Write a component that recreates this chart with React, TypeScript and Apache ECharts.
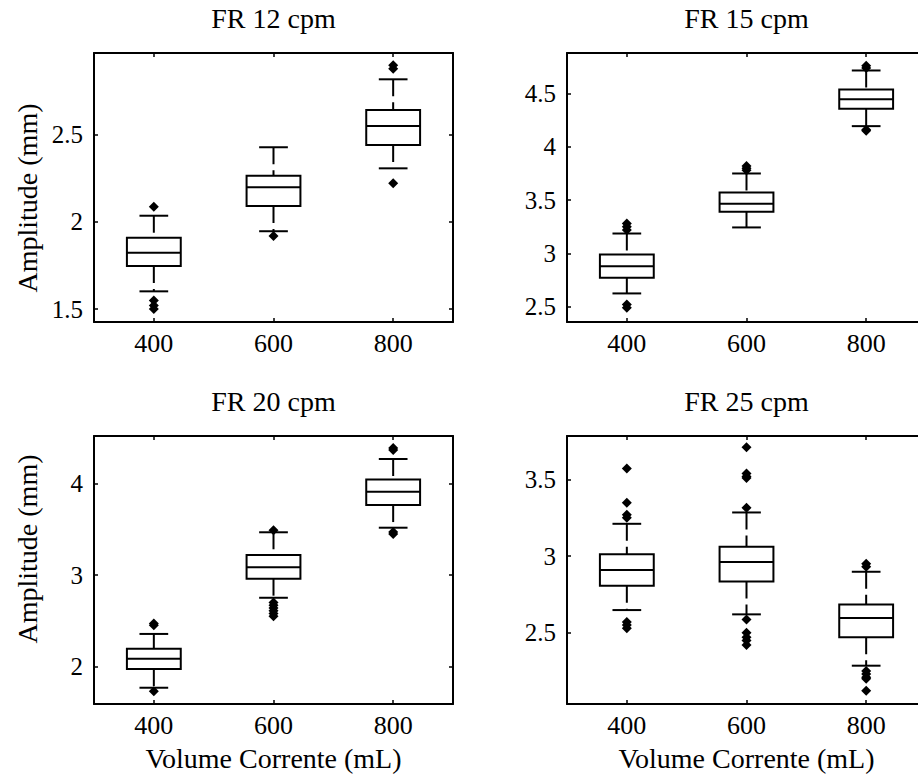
import React, { useEffect, useRef } from "react";
import * as echarts from "echarts";

const CATEGORIES = ["400", "600", "800"];
const PANEL_TITLES = ["FR 12 cpm", "FR 15 cpm", "FR 20 cpm", "FR 25 cpm"];
const X_NAME = "Volume Corrente (mL)";
const Y_NAME = "Amplitude (mm)";

// [lowerWhisker, q1, median, q3, upperWhisker] per category
const BOX_12 = [
  [1.602, 1.748, 1.824, 1.91, 2.036],
  [1.947, 2.092, 2.199, 2.266, 2.429],
  [2.308, 2.442, 2.551, 2.643, 2.819],
];
const OUT_12 = [
  [0, 2.088], [0, 1.55], [0, 1.52], [0, 1.5],
  [1, 1.92],
  [2, 2.9], [2, 2.88], [2, 2.222],
];
const BOX_15 = [
  [2.625, 2.771, 2.88, 2.99, 3.187],
  [3.244, 3.391, 3.466, 3.572, 3.75],
  [4.194, 4.356, 4.447, 4.537, 4.716],
];
const OUT_15 = [
  [0, 3.28], [0, 3.25], [0, 3.22], [0, 2.52], [0, 2.49],
  [1, 3.82], [1, 3.8], [1, 3.78],
  [2, 4.76], [2, 4.74], [2, 4.16], [2, 4.15],
];
const BOX_20 = [
  [1.766, 1.971, 2.084, 2.194, 2.355],
  [2.751, 2.96, 3.084, 3.219, 3.468],
  [3.518, 3.766, 3.912, 4.047, 4.27],
];
const OUT_20 = [
  [0, 2.47], [0, 2.45], [0, 1.727],
  [1, 3.49], [1, 2.7], [1, 2.67], [1, 2.64], [1, 2.61], [1, 2.58], [1, 2.55],
  [2, 4.39], [2, 4.37], [2, 3.47], [2, 3.45],
];
const BOX_25 = [
  [2.648, 2.806, 2.909, 3.013, 3.211],
  [2.62, 2.835, 2.961, 3.061, 3.285],
  [2.285, 2.47, 2.596, 2.685, 2.898],
];
const OUT_25 = [
  [0, 3.572], [0, 3.348], [0, 3.27], [0, 3.25], [0, 2.57], [0, 2.55], [0, 2.53],
  [1, 3.71], [1, 3.54], [1, 3.52], [1, 3.51], [1, 3.315], [1, 2.587], [1, 2.5], [1, 2.47], [1, 2.45], [1, 2.42],
  [2, 2.95], [2, 2.93], [2, 2.25], [2, 2.23], [2, 2.21], [2, 2.2], [2, 2.122],
];

const Y_TICKS = [
  [1.5, 2, 2.5],
  [2.5, 3, 3.5, 4, 4.5],
  [2, 3, 4],
  [2.5, 3, 3.5],
];
const Y_RANGES = [
  [1.426, 2.97],
  [2.357, 4.88],
  [1.588, 4.522],
  [2.035, 3.784],
];
const BOXES = [BOX_12, BOX_15, BOX_20, BOX_25];
const OUTLIERS = [OUT_12, OUT_15, OUT_20, OUT_25];

const FONT = "Liberation Serif";

const GRIDS = [
  { left: 94, top: 53, width: 359, height: 269 },
  { left: 567, top: 53, width: 359, height: 269 },
  { left: 94, top: 436, width: 359, height: 268 },
  { left: 567, top: 436, width: 359, height: 268 },
];

function renderBox(params: any, api: any) {
  const idx = api.value(0);
  const lo = api.coord([idx, api.value(1)]);
  const q1 = api.coord([idx, api.value(2)]);
  const med = api.coord([idx, api.value(3)]);
  const q3 = api.coord([idx, api.value(4)]);
  const hi = api.coord([idx, api.value(5)]);
  const band = api.size([1, 0])[0];
  const bw = band * 0.45;
  const cw = band * 0.24;
  const cx = med[0];
  const solid = { stroke: "#000", lineWidth: 2, fill: null };
  const dashed = { stroke: "#000", lineWidth: 2, fill: null, lineDash: [17, 6] };
  return {
    type: "group",
    children: [
      { type: "rect", shape: { x: cx - bw / 2, y: q3[1], width: bw, height: q1[1] - q3[1] }, style: { stroke: "#000", lineWidth: 2, fill: "transparent" } },
      { type: "line", shape: { x1: cx - bw / 2, y1: med[1], x2: cx + bw / 2, y2: med[1] }, style: solid },
      { type: "line", shape: { x1: cx, y1: hi[1], x2: cx, y2: q3[1] }, style: dashed },
      { type: "line", shape: { x1: cx, y1: q1[1], x2: cx, y2: lo[1] }, style: dashed },
      { type: "line", shape: { x1: cx - cw / 2, y1: hi[1], x2: cx + cw / 2, y2: hi[1] }, style: solid },
      { type: "line", shape: { x1: cx - cw / 2, y1: lo[1], x2: cx + cw / 2, y2: lo[1] }, style: solid },
    ],
  };
}

export default function App() {
  const ref = useRef<HTMLDivElement>(null);
  useEffect(() => {
    if (!ref.current) return;
    const chart = echarts.init(ref.current, null, { renderer: "svg" });
    const axisLine = { show: true, lineStyle: { color: "#000", width: 2 } };
    const tickStyle = { color: "#000", width: 1.5 };
    const xAxis: any[] = [];
    const yAxis: any[] = [];
    const series: any[] = [];
    const graphic: any[] = [];
    GRIDS.forEach((g, i) => {
      xAxis.push({
        type: "category", gridIndex: i, data: CATEGORIES, position: "bottom", boundaryGap: true,
        axisLine, axisTick: { show: true, inside: true, length: 4, alignWithLabel: true, lineStyle: tickStyle },
        axisLabel: { color: "#000", fontFamily: FONT, fontSize: 26, margin: 8 },
        splitLine: { show: false },
      });
      xAxis.push({
        type: "category", gridIndex: i, data: CATEGORIES, position: "top", boundaryGap: true,
        axisLine, axisTick: { show: true, inside: true, length: 4, alignWithLabel: true, lineStyle: tickStyle },
        axisLabel: { show: false }, splitLine: { show: false },
      });
      yAxis.push({
        type: "value", gridIndex: i, position: "left", min: Y_RANGES[i][0], max: Y_RANGES[i][1],
        axisLine, axisTick: { show: true, inside: true, length: 4, customValues: Y_TICKS[i], lineStyle: tickStyle },
        axisLabel: { color: "#000", fontFamily: FONT, fontSize: 25, margin: 11, customValues: Y_TICKS[i] },
        splitLine: { show: false },
      });
      yAxis.push({
        type: "value", gridIndex: i, position: "right", min: Y_RANGES[i][0], max: Y_RANGES[i][1],
        axisLine, axisTick: { show: true, inside: true, length: 4, customValues: Y_TICKS[i], lineStyle: tickStyle },
        axisLabel: { show: false }, splitLine: { show: false },
      });
      series.push({
        type: "custom", xAxisIndex: 2 * i, yAxisIndex: 2 * i,
        renderItem: renderBox,
        encode: { x: 0, y: [1, 2, 3, 4, 5] },
        data: BOXES[i].map((b, k) => [k, ...b]),
        silent: true,
      });
      series.push({
        type: "scatter", xAxisIndex: 2 * i, yAxisIndex: 2 * i,
        symbol: "diamond", symbolSize: 10,
        itemStyle: { color: "#000", opacity: 1 },
        data: OUTLIERS[i],
        silent: true,
      });
      graphic.push({
        type: "text", x: g.left + g.width / 2, y: g.top - 35,
        style: { text: PANEL_TITLES[i], font: `28px "${FONT}"`, fill: "#000", align: "center", verticalAlign: "middle" },
      });
    });
    graphic.push({
      type: "text", x: 27, y: 198, rotation: Math.PI / 2,
      style: { text: Y_NAME, font: `28px "${FONT}"`, fill: "#000", align: "center", verticalAlign: "middle" },
    });
    graphic.push({
      type: "text", x: 27, y: 549, rotation: Math.PI / 2,
      style: { text: Y_NAME, font: `28px "${FONT}"`, fill: "#000", align: "center", verticalAlign: "middle" },
    });
    [2, 3].forEach((i) => {
      const g = GRIDS[i];
      graphic.push({
        type: "text", x: g.left + g.width / 2, y: 758,
        style: { text: X_NAME, font: `28px "${FONT}"`, fill: "#000", align: "center", verticalAlign: "middle" },
      });
    });
    chart.setOption({
      animation: false,
      backgroundColor: "#fff",
      grid: GRIDS.map((g) => ({ ...g, containLabel: false })),
      xAxis,
      yAxis,
      series,
      graphic,
    });
    return () => chart.dispose();
  }, []);
  return (
    <div style={{ position: "absolute", left: 0, top: 0, width: 918, height: 776, overflow: "hidden", background: "#fff" }}>
      <div ref={ref} style={{ width: 940, height: 776 }} />
    </div>
  );
}
